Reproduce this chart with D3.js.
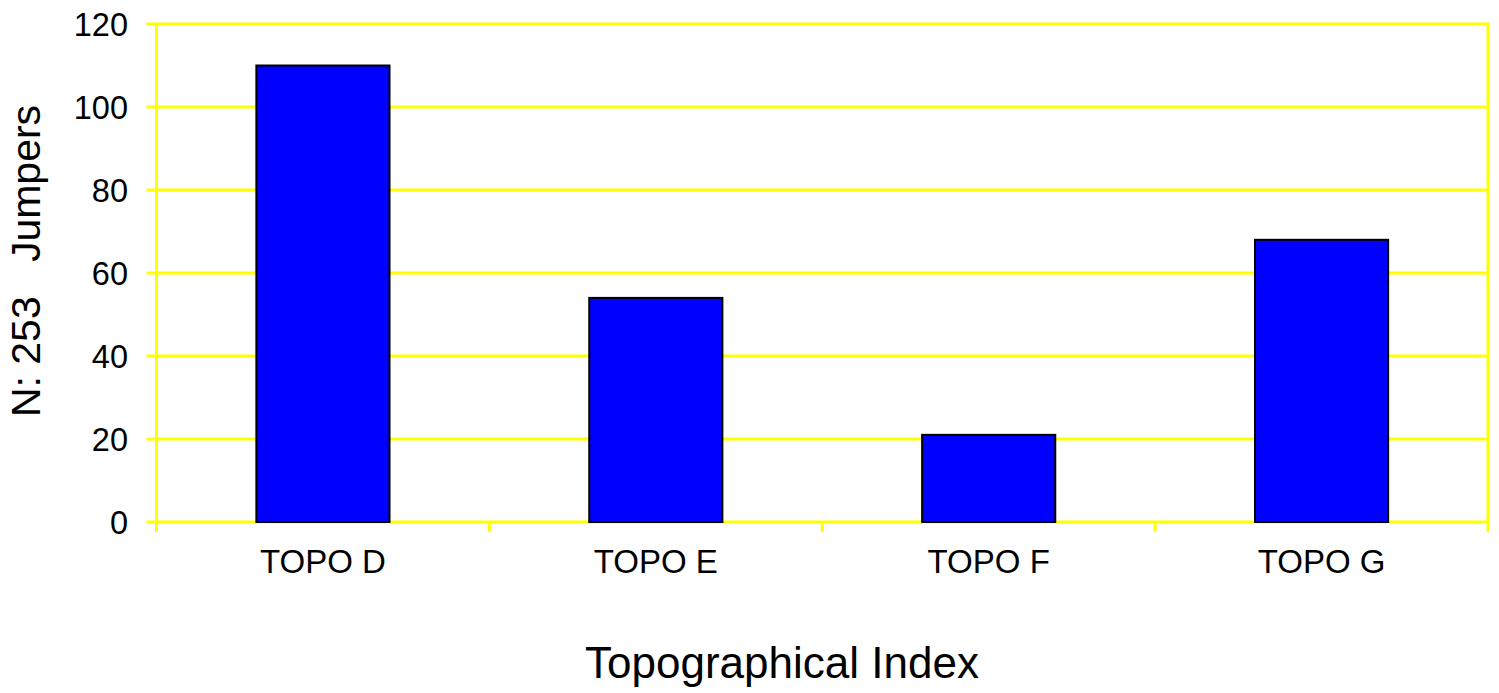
<!DOCTYPE html>
<html>
<head>
<meta charset="utf-8">
<script src="https://cdn.jsdelivr.net/npm/d3@7/dist/d3.min.js"></script>
<style>
  html, body { margin: 0; padding: 0; background: #fff; }
  svg { display: block; font-family: Arial, "Liberation Sans", sans-serif; }
</style>
</head>
<body>
<svg id="chart" width="1499" height="693"></svg>
<script>
// Jumpers per topographical index class
const categories = ["TOPO D", "TOPO E", "TOPO F", "TOPO G"];
const jumpers = [110, 54, 21, 68];
const yTicks = [0, 20, 40, 60, 80, 100, 120];
const yTitle = "N: 253   Jumpers";
const xTitle = "Topographical Index";

const plot = { left: 156.5, right: 1488, top: 24, bottom: 522 };
const yellow = "#FFFF00";

const svg = d3.select("#chart");

const x = d3.scaleBand()
  .domain(categories)
  .range([plot.left, plot.right])
  .paddingInner(0.6)
  .paddingOuter(0.3);

const y = d3.scaleLinear()
  .domain([0, 120])
  .range([plot.bottom, plot.top]);

// horizontal gridlines with short ticks to the left of the axis
svg.append("g").selectAll("line")
  .data(yTicks)
  .join("line")
  .attr("x1", plot.left - 10)
  .attr("x2", plot.right)
  .attr("y1", d => y(d))
  .attr("y2", d => y(d))
  .attr("stroke", yellow)
  .attr("stroke-width", 3);

// y tick labels
svg.append("g").selectAll("text")
  .data(yTicks)
  .join("text")
  .attr("x", 128)
  .attr("y", d => y(d))
  .attr("dy", "0.36em")
  .attr("text-anchor", "end")
  .attr("font-size", 32.5)
  .attr("fill", "#000")
  .text(d => d);

// left axis and right border
svg.append("line")
  .attr("x1", plot.left).attr("x2", plot.left)
  .attr("y1", plot.top).attr("y2", plot.bottom + 10)
  .attr("stroke", yellow).attr("stroke-width", 3);
svg.append("line")
  .attr("x1", plot.right).attr("x2", plot.right)
  .attr("y1", plot.top - 1.5).attr("y2", plot.bottom + 10)
  .attr("stroke", yellow).attr("stroke-width", 3);

// category boundary ticks below the baseline
const bounds = d3.range(1, categories.length)
  .map(i => plot.left + i * (plot.right - plot.left) / categories.length);
svg.append("g").selectAll("line")
  .data(bounds)
  .join("line")
  .attr("x1", d => d).attr("x2", d => d)
  .attr("y1", plot.bottom).attr("y2", plot.bottom + 10)
  .attr("stroke", yellow).attr("stroke-width", 3);

// bars
svg.append("g").selectAll("rect")
  .data(categories.map((c, i) => ({ c, v: jumpers[i] })))
  .join("rect")
  .attr("x", d => x(d.c))
  .attr("y", d => y(d.v))
  .attr("width", x.bandwidth())
  .attr("height", d => y(0) - y(d.v))
  .attr("fill", "#0000FF")
  .attr("stroke", "#000")
  .attr("stroke-width", 2);

// category labels
svg.append("g").selectAll("text")
  .data(categories)
  .join("text")
  .attr("x", d => x(d) + x.bandwidth() / 2)
  .attr("y", 573)
  .attr("text-anchor", "middle")
  .attr("font-size", 33)
  .attr("fill", "#000")
  .text(d => d);

// axis titles
svg.append("text")
  .attr("x", 782)
  .attr("y", 678)
  .attr("text-anchor", "middle")
  .attr("font-size", 44)
  .attr("fill", "#000")
  .text(xTitle);

svg.append("text")
  .attr("transform", "translate(40,261) rotate(-90)")
  .attr("text-anchor", "middle")
  .attr("font-size", 41)
  .attr("fill", "#000")
  .style("white-space", "pre")
  .text(yTitle);
</script>
</body>
</html>
